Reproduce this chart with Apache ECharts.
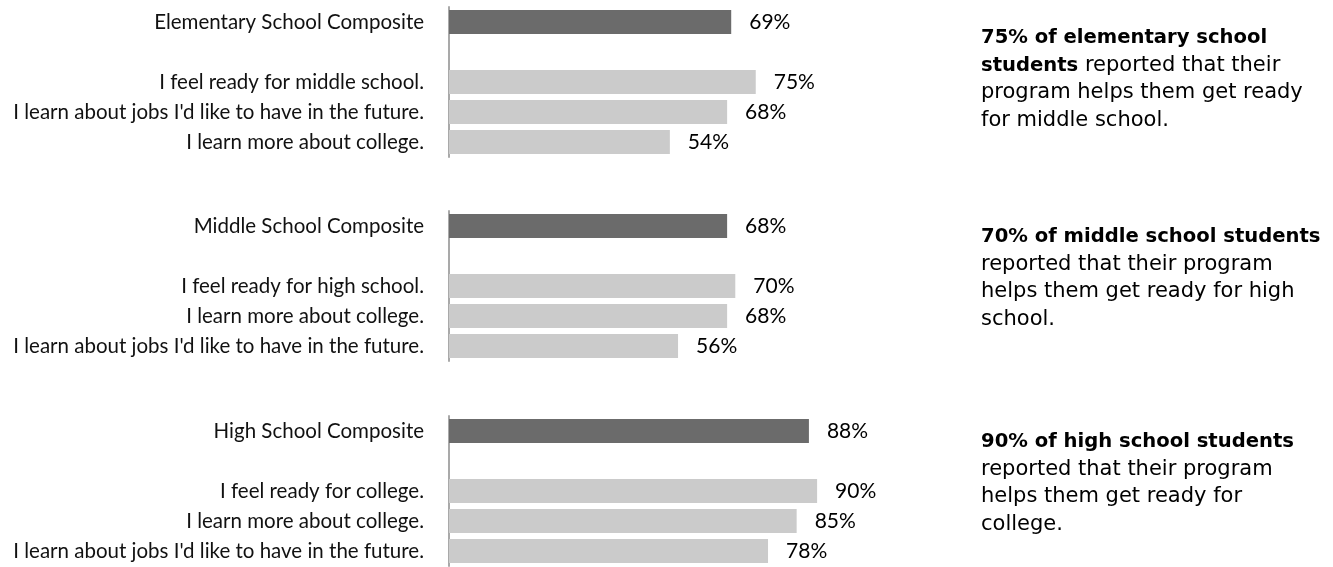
<!DOCTYPE html>
<html>
<head>
<meta charset="utf-8">
<script src="https://cdn.jsdelivr.net/npm/echarts@6/dist/echarts.min.js"></script>
<style>html,body{margin:0;padding:0;background:#fff}#c{width:1333px;height:567px}</style>
</head>
<body>
<div id="c"></div>
<script>
// ---- data ----
const elemCats = ['Elementary School Composite', '', 'I feel ready for middle school.', "I learn about jobs I'd like to have in the future.", 'I learn more about college.'];
const elemVals = [69, null, 75, 68, 54];
const midCats = ['Middle School Composite', '', 'I feel ready for high school.', 'I learn more about college.', "I learn about jobs I'd like to have in the future."];
const midVals = [68, null, 70, 68, 56];
const highCats = ['High School Composite', '', 'I feel ready for college.', 'I learn more about college.', "I learn about jobs I'd like to have in the future."];
const highVals = [88, null, 90, 85, 78];
const noteBold = [['75% of elementary school', 'students'], ['70% of middle school students'], ['90% of high school students']];
const noteRest = [
  [' reported that their', 'program helps them get ready', 'for middle school.'],
  ['reported that their program', 'helps them get ready for high', 'school.'],
  ['reported that their program', 'helps them get ready for', 'college.']
];

// ---- layout / style ----
const DARK = '#6b6b6b', LIGHT = '#cbcbcb';
const gridTops = [7, 211, 416];
const noteTops = [28, 227, 432];
const catSets = [elemCats, midCats, highCats];
const valSets = [elemVals, midVals, highVals];
const labelFont = "Lato";

const grids = [], xAxes = [], yAxes = [], series = [];
catSets.forEach((cats, i) => {
  grids.push({left: 449, width: 409, top: gridTops[i], height: 150});
  xAxes.push({type: 'value', gridIndex: i, min: 0, max: 100, show: false});
  yAxes.push({
    type: 'category', gridIndex: i, data: cats, inverse: true,
    axisLine: {show: true, lineStyle: {color: '#a9a9a9', width: 2}},
    axisTick: {show: false},
    axisLabel: {color: '#111', fontSize: 20.5, fontFamily: labelFont, margin: 25}
  });
  series.push({
    type: 'bar', xAxisIndex: i, yAxisIndex: i, barWidth: 24,
    data: valSets[i].map((v, k) => ({value: v, itemStyle: {color: k === 0 ? DARK : LIGHT}})),
    label: {show: true, position: 'right', distance: 18, color: '#000', fontSize: 21,
      fontFamily: labelFont, formatter: p => p.value == null ? '' : p.value + '%'},
    silent: true
  });
});

const graphics = noteBold.map((b, i) => {
  let lines = [];
  const rest = noteRest[i].slice();
  b.forEach((bl, j) => {
    if (j === b.length - 1 && i === 0) {
      lines.push('{b|' + bl + '}{r|' + rest.shift() + '}');
    } else {
      lines.push('{b|' + bl + '}');
    }
  });
  rest.forEach(r => lines.push('{r|' + r + '}'));
  return {
    type: 'text', left: 981, top: noteTops[i],
    style: {
      text: lines.join('\n'),
      rich: {
        b: {fontFamily: 'DejaVu Sans', fontWeight: 'bold', fontSize: 19.6, lineHeight: 27.5, fill: '#000'},
        r: {fontFamily: 'DejaVu Sans', fontSize: 21, lineHeight: 27.5, fill: '#000'}
      }
    }
  };
});

const chart = echarts.init(document.getElementById('c'), null, {renderer: 'canvas'});
chart.setOption({
  animation: false,
  grid: grids, xAxis: xAxes, yAxis: yAxes, series: series,
  graphic: graphics
});
</script>
</body>
</html>
